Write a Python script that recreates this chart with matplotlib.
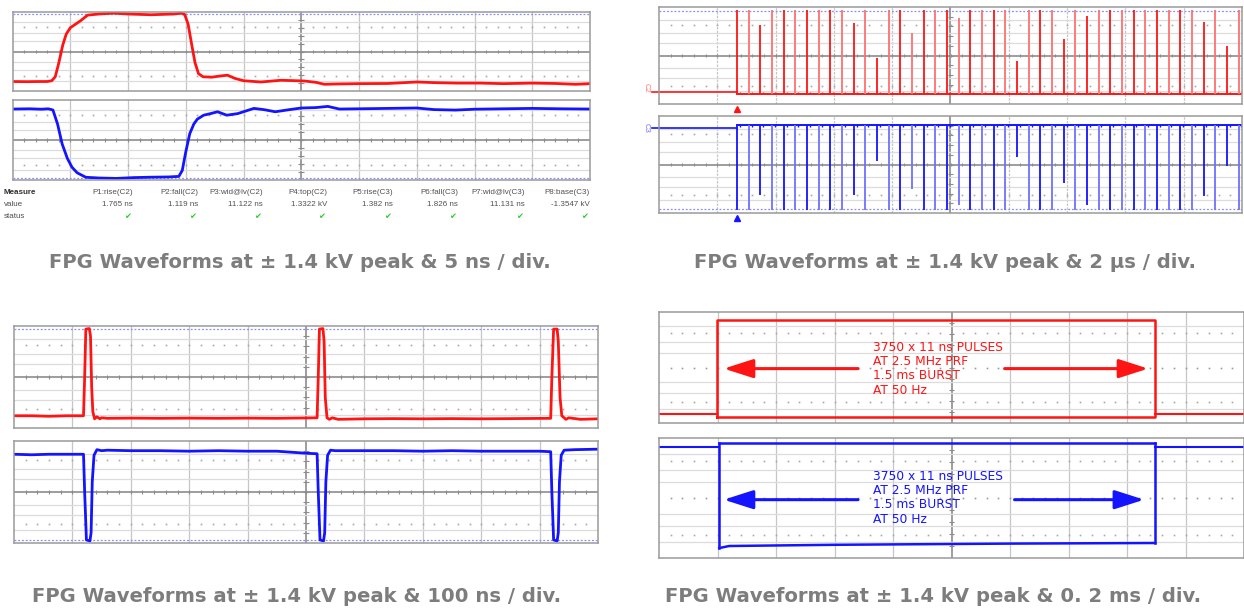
import numpy as np
import matplotlib
matplotlib.use('Agg')
import matplotlib.pyplot as plt

W, H = 1244, 610
RED = '#ff1414'
PINK = '#ff7070'
BLUE = '#1414ff'
LBLUE = '#7070ff'
GRID = '#c6c6c6'
DARK = '#8c8c8c'
CAPTION = '#7d7d7d'

# ---------------- data ----------------
captions = ["FPG Waveforms at \u00b1 1.4 kV peak & 5 ns / div.",
            "FPG Waveforms at \u00b1 1.4 kV peak & 2 \u03bcs / div.",
            "FPG Waveforms at \u00b1 1.4 kV peak & 100 ns / div.",
            "FPG Waveforms at \u00b1 1.4 kV peak & 0. 2 ms / div."]

# panel 1: 5 ns/div  (time in divisions, level as fraction of the grid height)
tl_red_t = [0, 0.25, 0.45, 0.6, 0.68, 0.74, 0.8, 0.87, 0.93, 1.0, 1.08, 1.18, 1.3, 1.5,
            1.75, 2.0, 2.2, 2.4, 2.6, 2.8, 2.92, 2.98, 3.04, 3.1, 3.16, 3.22, 3.3, 3.45,
            3.6, 3.72, 3.85, 4.0, 4.3, 4.65, 5.05, 5.25, 5.4, 5.7, 6.0, 6.5, 7.0, 7.35,
            7.7, 8.1, 8.5, 9.0, 9.4, 9.75, 10.0]
tl_red_v = [0.12, 0.118, 0.12, 0.12, 0.13, 0.18, 0.35, 0.58, 0.72, 0.8, 0.84, 0.89, 0.96, 0.975,
            0.985, 0.975, 0.97, 0.965, 0.97, 0.975, 0.985, 0.97, 0.85, 0.6, 0.36, 0.22, 0.18, 0.175,
            0.19, 0.2, 0.16, 0.13, 0.114, 0.136, 0.127, 0.11, 0.085, 0.09, 0.093, 0.095, 0.114, 0.105,
            0.1, 0.1, 0.093, 0.1, 0.095, 0.085, 0.093]
tl_blue_t = [0, 0.3, 0.5, 0.62, 0.7, 0.78, 0.86, 0.95, 1.03, 1.12, 1.27, 1.5, 1.8, 2.1, 2.4,
             2.7, 2.88, 2.94, 3.0, 3.07, 3.14, 3.2, 3.31, 3.43, 3.55, 3.71, 3.9, 4.18, 4.35,
             4.55, 4.8, 5.0, 5.25, 5.46, 5.66, 6.0, 6.5, 7.0, 7.3, 7.67, 8.0, 8.5, 9.0, 9.5, 10.0]
tl_blue_v = [0.887, 0.89, 0.885, 0.89, 0.875, 0.7, 0.45, 0.27, 0.16, 0.09, 0.034, 0.025, 0.02, 0.03, 0.035,
             0.038, 0.045, 0.12, 0.35, 0.58, 0.7, 0.76, 0.81, 0.83, 0.853, 0.81, 0.83, 0.895, 0.88,
             0.853, 0.88, 0.9, 0.905, 0.92, 0.887, 0.89, 0.895, 0.9, 0.88, 0.874, 0.885, 0.89, 0.895, 0.89, 0.887]

meas_names = ["P1:rise(C2)", "P2:fall(C2)", "P3:wid@lv(C2)", "P4:top(C2)",
              "P5:rise(C3)", "P6:fall(C3)", "P7:wid@lv(C3)", "P8:base(C3)"]
meas_values = ["1.765 ns", "1.119 ns", "11.122 ns", "1.3322 kV",
               "1.382 ns", "1.826 ns", "11.131 ns", "-1.3547 kV"]

# panel 2: 2 us/div burst start
tr_first_pulse = 1.34      # divisions
tr_period = 0.2            # divisions (400 ns)
tr_red_heights = [1.0, 1.0, 0.82, 1.0, 1.0, 1.0, 1.0, 1.0, 1.0, 1.0,
                  0.84, 1.0, 0.43, 1.0, 1.0, 0.73, 1.0, 1.0, 1.0, 0.9,
                  1.0, 1.0, 1.0, 1.0, 0.39, 1.0, 1.0, 1.0, 0.65, 1.0,
                  0.93, 1.0, 1.0, 1.0, 1.0, 1.0, 1.0, 1.0, 1.0, 1.0,
                  0.86, 1.0, 0.57, 1.0]
tr_blue_depths = [1.0, 1.0, 0.83, 1.0, 1.0, 1.0, 1.0, 1.0, 1.0, 1.0,
                  0.83, 1.0, 0.42, 1.0, 1.0, 0.76, 1.0, 1.0, 1.0, 0.95,
                  1.0, 1.0, 1.0, 1.0, 0.38, 1.0, 1.0, 1.0, 0.68, 1.0,
                  0.95, 1.0, 1.0, 1.0, 1.0, 1.0, 1.0, 1.0, 1.0, 1.0,
                  0.84, 1.0, 0.48, 1.0]
tr_red_levels = {'pre': 0.127, 'base': 0.10, 'top': 0.97}
tr_blue_levels = {'pre': 0.88, 'base': 0.908, 'bottom': 0.034}

# panel 3: 100 ns/div
bl_red_t = [0, 0.3, 0.6, 0.9, 1.19, 1.21, 1.23, 1.29, 1.31, 1.33, 1.35, 1.38, 1.42, 1.47, 1.5, 1.6,
            2.0, 2.5, 3.0, 3.5, 4.0, 4.5, 5.19, 5.21, 5.23, 5.29, 5.31, 5.33, 5.36, 5.4, 5.45,
            5.55, 6.0, 6.5, 7.0, 7.5, 8.0, 8.5, 9.19, 9.21, 9.24, 9.3, 9.32, 9.35, 9.38, 9.45,
            9.5, 9.7, 10.0]
bl_red_v = [0.12, 0.12, 0.115, 0.12, 0.12, 0.5, 0.97, 0.975, 0.9, 0.4, 0.16, 0.09, 0.11, 0.09, 0.1, 0.095,
            0.097, 0.095, 0.097, 0.095, 0.097, 0.095, 0.1, 0.5, 0.97, 0.975, 0.85, 0.3, 0.1, 0.085, 0.1,
            0.085, 0.09, 0.092, 0.09, 0.092, 0.09, 0.092, 0.095, 0.5, 0.97, 0.97, 0.85, 0.3, 0.12, 0.085,
            0.1, 0.085, 0.09]
bl_blue_t = [0, 0.3, 0.6, 0.9, 1.19, 1.21, 1.24, 1.3, 1.32, 1.34, 1.37, 1.42, 1.5, 1.6, 2.0, 2.5,
             3.0, 3.5, 4.0, 4.5, 5.0, 5.19, 5.21, 5.24, 5.3, 5.32, 5.34, 5.37, 5.42, 5.5, 6.0,
             6.5, 7.0, 7.5, 8.0, 8.5, 9.0, 9.19, 9.21, 9.24, 9.3, 9.32, 9.34, 9.37, 9.42, 9.6, 10.0]
bl_blue_v = [0.87, 0.865, 0.87, 0.87, 0.87, 0.5, 0.03, 0.02, 0.1, 0.6, 0.86, 0.915, 0.905, 0.91, 0.905, 0.905,
             0.9, 0.905, 0.9, 0.9, 0.88, 0.875, 0.5, 0.03, 0.02, 0.1, 0.6, 0.86, 0.91, 0.905, 0.905,
             0.905, 0.9, 0.905, 0.9, 0.9, 0.9, 0.895, 0.5, 0.03, 0.02, 0.1, 0.6, 0.86, 0.91, 0.915, 0.92]

# panel 4: 0.2 ms/div burst envelope
br_red_edges = [0.99, 8.48]
br_red_base, br_red_top, br_red_bot = 0.084, 0.928, 0.054
br_blue_edges = [1.03, 8.48]
br_blue_base, br_blue_top = 0.925, 0.958
br_blue_bot_t = [1.03, 1.2, 3.0, 6.0, 8.48]
br_blue_bot_v = [0.083, 0.1, 0.11, 0.12, 0.125]
burst_text = ["3750 x 11 ns PULSES", "AT 2.5 MHz PRF", "1.5 ms BURST", "AT 50 Hz"]

# ---------------- drawing ----------------
fig = plt.figure(figsize=(12.44, 6.10), dpi=100)
fig.patch.set_facecolor('white')


def add_box(l, t, r, b):
    ax = fig.add_axes([l / W, 1 - b / H, (r - l) / W, (b - t) / H])
    ax.set_xlim(0, 10)
    ax.set_ylim(0, 1)
    ax.set_xticks([])
    ax.set_yticks([])
    for s in ax.spines.values():
        s.set_color('#9a9a9a')
        s.set_linewidth(1.1)
    return ax


def graticule(ax, blue_line=None, center_dotted=False, vdotted=False):
    for k in range(1, 10):
        if k == 5:
            continue
        ax.axvline(k, color=GRID, lw=0.9,
                   ls=(0, (2, 1)) if vdotted else '-', zorder=0)
    ax.axvline(5, color=DARK, lw=1.2, zorder=0)
    for y in [0.13, 0.27, 0.37, 0.63, 0.73, 0.87]:
        ax.axhline(y, color='#dcdcdc', lw=0.9, zorder=0)
    xs = np.arange(0.2, 10, 0.2)
    for y in [0.19, 0.81]:
        ax.plot(xs, [y] * len(xs), ls='none', marker='s', ms=1.2, mew=0,
                color='#a8a8a8', zorder=0)
    if center_dotted:
        ax.plot(xs, [0.5] * len(xs), ls='none', marker='s', ms=1.2, mew=0,
                color='#9a9a9a', zorder=0)
    else:
        ax.axhline(0.5, color=DARK, lw=1.2, zorder=0)
        ax.vlines(xs, 0.48, 0.52, color=DARK, lw=0.8, zorder=0)
    ax.hlines(np.arange(0.1, 1.0, 0.1), 4.95, 5.05, color=DARK, lw=0.8, zorder=0)
    if blue_line is not None:
        ax.axhline(blue_line, color='#8c8cff', lw=0.9, ls=(0, (1.5, 1.5)), zorder=0)


def px(x, y):
    return x / W, 1 - y / H


# ---- panel 1 ----
ax = add_box(12.5, 12, 590, 91)
graticule(ax, blue_line=0.97)
ax.plot(tl_red_t, tl_red_v, color=RED, lw=2.0, solid_joinstyle='round')
ax = add_box(12.5, 100, 590, 180)
graticule(ax, blue_line=0.03)
ax.plot(tl_blue_t, tl_blue_v, color=BLUE, lw=2.0, solid_joinstyle='round')

fig.text(*px(4, 192), "Measure", fontsize=5.8, fontweight='bold', color='#303030',
         va='center', ha='left', family='Liberation Sans')
fig.text(*px(4, 204), "value", fontsize=5.8, color='#505050', va='center', ha='left',
         family='Liberation Sans')
fig.text(*px(4, 216), "status", fontsize=5.8, color='#505050', va='center', ha='left',
         family='Liberation Sans')
col_right = [133, 198, 263, 327, 393, 458, 525, 590]
for xr, name, val in zip(col_right, meas_names, meas_values):
    fig.text(*px(xr, 192), name, fontsize=5.8, color='#505050', va='center', ha='right',
             family='Liberation Sans')
    fig.text(*px(xr, 204), val, fontsize=5.8, color='#505050', va='center', ha='right',
             family='Liberation Sans')
    fig.text(*px(xr - 2, 216), "\u2714", fontsize=6, color='#2ecc2e', va='center', ha='right',
             family='DejaVu Sans')

# ---- panel 2 ----
times = [tr_first_pulse + k * tr_period for k in range(len(tr_red_heights))]
ax = add_box(659, 7, 1242, 104)
graticule(ax, blue_line=0.955, vdotted=True)
rl = tr_red_levels
ax.plot([-0.12, tr_first_pulse], [rl['pre'], rl['pre']], color=RED, lw=1.2, clip_on=False)
ax.plot([tr_first_pulse, 10], [rl['base'], rl['base']], color=RED, lw=1.4)
for k, (t, h) in enumerate(zip(times, tr_red_heights)):
    top = rl['base'] + h * (rl['top'] - rl['base'])
    ax.vlines(t, rl['base'], top, color=RED if k % 2 == 0 else PINK, lw=1.3)
    ax.vlines(t + 0.05, rl['base'], rl['base'] + 0.025, color=RED, lw=1.0)
ax.plot([tr_first_pulse], [-0.05], marker='^', ms=5, color=RED, clip_on=False, ls='none')
ax.text(-0.22, 0.17, "C2", color=PINK, fontsize=5.5, rotation=-90, ha='center', va='center',
        clip_on=False, family='Liberation Sans')

ax = add_box(659, 116, 1242, 213)
graticule(ax, blue_line=0.045, vdotted=True)
bl = tr_blue_levels
ax.plot([-0.12, tr_first_pulse], [bl['pre'], bl['pre']], color=BLUE, lw=1.2, clip_on=False)
ax.plot([tr_first_pulse, 10], [bl['base'], bl['base']], color=BLUE, lw=1.4)
for k, (t, d) in enumerate(zip(times, tr_blue_depths)):
    bot = bl['base'] - d * (bl['base'] - bl['bottom'])
    ax.vlines(t, bot, bl['base'], color=BLUE if k % 2 == 0 else LBLUE, lw=1.3)
    ax.vlines(t + 0.05, bl['base'] - 0.025, bl['base'], color=BLUE, lw=1.0)
ax.plot([tr_first_pulse], [-0.05], marker='^', ms=5, color=BLUE, clip_on=False, ls='none')
ax.text(-0.22, 0.88, "C3", color=LBLUE, fontsize=5.5, rotation=-90, ha='center', va='center',
        clip_on=False, family='Liberation Sans')

# ---- panel 3 ----
ax = add_box(14, 326, 598, 428)
graticule(ax, blue_line=0.974)
ax.plot(bl_red_t, bl_red_v, color=RED, lw=2.0, solid_joinstyle='round')
ax = add_box(14, 441, 598, 543)
graticule(ax, blue_line=0.026)
ax.plot(bl_blue_t, bl_blue_v, color=BLUE, lw=2.0, solid_joinstyle='round')

# ---- panel 4 ----
ax = add_box(659, 312, 1244, 423)
graticule(ax, center_dotted=True)
e0, e1 = br_red_edges
ax.plot([0, e0], [br_red_base, br_red_base], color=RED, lw=1.5)
ax.plot([e1, 10], [br_red_base, br_red_base], color=RED, lw=1.5)
ax.plot([e0, e0, e1, e1, e0], [br_red_bot, br_red_top, br_red_top, br_red_bot, br_red_bot],
        color=RED, lw=1.8)
arrow_kw = dict(arrowstyle='-|>,head_length=1.0,head_width=0.32', mutation_scale=18, lw=2.2)
ax.annotate('', xy=(1.06, 0.49), xytext=(3.45, 0.49),
            arrowprops=dict(color=RED, **arrow_kw))
ax.annotate('', xy=(8.41, 0.49), xytext=(5.86, 0.49),
            arrowprops=dict(color=RED, **arrow_kw))
for yv, s in zip([0.68, 0.554, 0.425, 0.293], burst_text):
    ax.text(3.66, yv, s, color=RED, fontsize=8.8, ha='left', va='center', family='DejaVu Sans')

ax = add_box(659, 438, 1244, 558)
graticule(ax, center_dotted=True)
e0, e1 = br_blue_edges
ax.plot([0, e0], [br_blue_base, br_blue_base], color=BLUE, lw=1.5)
ax.plot([e1, 10], [br_blue_base, br_blue_base], color=BLUE, lw=1.5)
ax.plot([e0, e1], [br_blue_top, br_blue_top], color=BLUE, lw=1.8)
ax.plot(br_blue_bot_t, br_blue_bot_v, color=BLUE, lw=1.8)
ax.plot([e0, e0], [br_blue_bot_v[0], br_blue_top], color=BLUE, lw=1.8)
ax.plot([e1, e1], [br_blue_bot_v[-1], br_blue_top], color=BLUE, lw=1.8)
ax.annotate('', xy=(1.06, 0.486), xytext=(3.45, 0.486),
            arrowprops=dict(color=BLUE, **arrow_kw))
ax.annotate('', xy=(8.34, 0.486), xytext=(6.03, 0.486),
            arrowprops=dict(color=BLUE, **arrow_kw))
for yv, s in zip([0.68, 0.56, 0.45, 0.32], burst_text):
    ax.text(3.66, yv, s, color=BLUE, fontsize=8.8, ha='left', va='center', family='DejaVu Sans')

# ---- captions ----
for (cx, cy), s in zip([(300, 262), (945, 262), (297, 597), (933, 597)], captions):
    fig.text(*px(cx, cy), s, fontsize=14.1, fontweight='bold', color=CAPTION,
             ha='center', va='center', family='DejaVu Sans')

fig.savefig('out.png', dpi=100, facecolor='white')
